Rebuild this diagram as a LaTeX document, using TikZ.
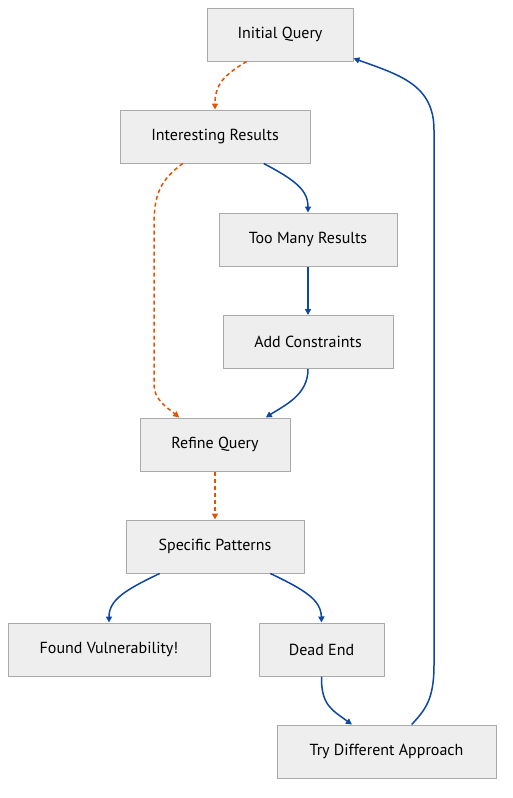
\documentclass[tikz,border=0pt]{standalone}
\usepackage{fontspec}
\setmainfont{PT Sans}
\usetikzlibrary{arrows.meta}

\definecolor{boxfill}{HTML}{EEEEEE}
\definecolor{boxline}{HTML}{AAAAAA}
\definecolor{flowblue}{HTML}{0D47A1}
\definecolor{floworange}{HTML}{E65100}

\tikzset{
	stepbox/.style={rectangle, draw=boxline, fill=boxfill, line width=1pt, minimum height=53pt, inner sep=0pt, font=\fontsize{16}{19}\selectfont},
	flow/.style={draw=flowblue, line width=1.5pt, -{Triangle[length=6pt,width=6pt]}},
	hint/.style={draw=floworange, line width=1.5pt, dash pattern=on 4pt off 3pt, -{Triangle[length=6pt,width=6pt]}}
}

\begin{document}
\begin{tikzpicture}[x=1pt, y=-1pt]
		\useasboundingbox (0,0) rectangle (512,798);
		
		% Search steps
		\node[stepbox, minimum width=146pt] (init) at (280,34.5) {Initial Query};
		\node[stepbox, minimum width=190pt] (interest) at (215,136.5) {Interesting Results};
		\node[stepbox, minimum width=178pt] (toomany) at (308,239.5) {Too Many Results};
		\node[stepbox, minimum width=170pt] (constr) at (308,342) {Add Constraints};
		\node[stepbox, minimum width=150pt] (refine) at (215,444.5) {Refine Query};
		\node[stepbox, minimum width=178pt] (specific) at (215,546.5) {Specific Patterns};
		\node[stepbox, minimum width=202pt] (found) at (109,649.5) {Found Vulnerability!};
		\node[stepbox, minimum width=125pt] (dead) at (321.5,649.5) {Dead End};
		\node[stepbox, minimum width=219pt] (retry) at (386.5,751.5) {Try Different Approach};
		
		% Promising path
		\draw[hint] (init.219) .. controls (222,76) and (215,86) .. (interest.north);
		\draw[hint] (interest.220) .. controls (160,180) and (154,195) .. (154,225)
			-- (154,385) .. controls (154,400) and (168,408) .. (refine.143);
		\draw[hint] (refine.south) -- (specific.north);
		
		% Narrowing and retrying
		\draw[flow] (interest.331) .. controls (295,180) and (308,190) .. (toomany.north);
		\draw[flow] (toomany.south) -- (constr.north);
		\draw[flow] (constr.south) .. controls (308,395) and (285,405) .. (refine.28);
		\draw[flow] (specific.206) .. controls (125,590) and (109,600) .. (found.north);
		\draw[flow] (specific.334) .. controls (305,590) and (321,600) .. (dead.north);
		\draw[flow] (dead.south) .. controls (321,705) and (332,710) .. (retry.142);
		\draw[flow] (retry.47) .. controls (425,710) and (434,700) .. (434,665)
			-- (434,130) .. controls (434,85) and (400,75) .. (init.342);
	\end{tikzpicture}
\end{document}
